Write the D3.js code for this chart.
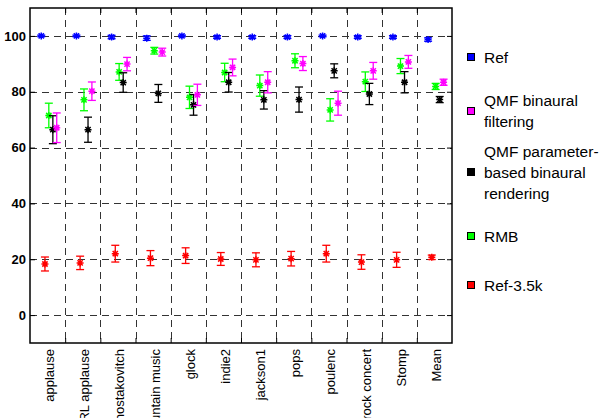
<!DOCTYPE html>
<html>
<head>
<meta charset="utf-8">
<script src="https://cdn.jsdelivr.net/npm/d3@7"></script>
<style>
  html, body { margin: 0; padding: 0; background: #fff; }
  svg { display: block; }
  text { font-family: "Liberation Sans", Arial, sans-serif; }
</style>
</head>
<body>
<div id="chart"></div>
<script>
const categories = ["applause","ARL applause","Shostakovitch","mountain music","glock","indie2","jackson1","pops","poulenc","rock concert","Stomp","Mean"];
const yTicks = [0, 20, 40, 60, 80, 100];

const refVals      = [100, 100, 99.6, 99.2, 100, 99.6, 99.6, 99.6, 100, 99.6, 99.6, 98.7];
const refErr       = [0.3, 0.3, 0.6, 0.8, 0.3, 0.5, 0.5, 0.5, 0.3, 0.5, 0.5, 0.6];
const qmfBinVals   = [67.1, 80.2, 89.9, 94.2, 78.9, 88.7, 83.4, 90.1, 75.9, 87.5, 90.7, 83.4];
const qmfBinErr    = [5.3, 3.3, 2.4, 1.4, 3.8, 3.0, 3.8, 2.5, 4.3, 3.0, 2.3, 1.1];
const qmfParamVals = [66.4, 66.4, 83.3, 79.4, 75.3, 83.4, 77.1, 77.2, 87.5, 79.2, 83.4, 77.2];
const qmfParamErr  = [5.0, 4.5, 3.5, 3.2, 3.7, 3.5, 3.3, 4.5, 2.5, 3.8, 3.8, 1.1];
const rmbVals      = [71.5, 77.1, 87.1, 94.7, 78.0, 86.9, 82.2, 91.1, 73.5, 83.6, 89.2, 81.9];
const rmbErr       = [4.4, 3.9, 3.0, 1.2, 4.0, 3.3, 3.8, 2.5, 4.0, 3.5, 2.7, 1.1];
const ref35Vals    = [18.3, 18.7, 22.0, 20.4, 21.3, 20.1, 19.8, 20.2, 22.0, 19.0, 19.8, 20.7];
const ref35Err     = [2.5, 2.4, 3.0, 2.7, 2.8, 2.3, 2.5, 2.6, 3.0, 2.6, 2.7, 0.8];

const seriesNames = ["Ref", "QMF binaural filtering", "QMF parameter-based binaural rendering", "RMB", "Ref-3.5k"];
const legendLines = [["Ref"], ["QMF binaural", "filtering"], ["QMF parameter-", "based binaural", "rendering"], ["RMB"], ["Ref-3.5k"]];
const seriesColors = ["#0000ff", "#ff00ff", "#000000", "#00ff00", "#ff0000"];
const seriesOffsets = [-0.18, 0.26, 0.15, 0.035, -0.075];
const seriesData = [refVals, qmfBinVals, qmfParamVals, rmbVals, ref35Vals];
const seriesErr = [refErr, qmfBinErr, qmfParamErr, rmbErr, ref35Err];

const W = 610, H = 418;
const L = 30, R = 452, T = 8, B = 343;

const svg = d3.select("#chart").append("svg").attr("width", W).attr("height", H);

const x = d3.scaleLinear().domain([0.5, categories.length + 0.5]).range([L, R]);
const y = d3.scaleLinear().domain([-10, 110]).range([B, T]);

// grid
const grid = svg.append("g").attr("stroke", "#333").attr("stroke-width", 1).attr("stroke-dasharray", "7,5");
const bounds = d3.range(1, categories.length).map(i => i + 0.5);
grid.selectAll("line.v").data(bounds).join("line")
  .attr("x1", d => Math.round(x(d)) + 0.5).attr("x2", d => Math.round(x(d)) + 0.5)
  .attr("y1", T).attr("y2", B);
grid.selectAll("line.h").data(yTicks).join("line")
  .attr("y1", d => Math.round(y(d)) + 0.5).attr("y2", d => Math.round(y(d)) + 0.5)
  .attr("x1", L).attr("x2", R);

// axes
const yAxisL = d3.axisLeft(y).tickValues(yTicks).tickSize(-5).tickPadding(4);
const gyl = svg.append("g").attr("transform", `translate(${L},0)`).call(yAxisL);
gyl.select(".domain").remove();
gyl.selectAll("text").attr("font-size", 13).attr("font-weight", "bold").attr("fill", "#000")
  .attr("font-family", "'Liberation Sans', Arial, sans-serif");
gyl.selectAll("line").attr("stroke", "#000");

const yAxisR = d3.axisRight(y).tickValues(yTicks).tickSize(-5).tickFormat("");
const gyr = svg.append("g").attr("transform", `translate(${R},0)`).call(yAxisR);
gyr.select(".domain").remove();
gyr.selectAll("line").attr("stroke", "#000");

const xAxisB = d3.axisBottom(x).tickValues(bounds).tickSize(-5).tickFormat("");
const gxb = svg.append("g").attr("transform", `translate(0,${B})`).call(xAxisB);
gxb.select(".domain").remove();
gxb.selectAll("line").attr("stroke", "#000");

const xAxisT = d3.axisTop(x).tickValues(bounds).tickSize(-5).tickFormat("");
const gxt = svg.append("g").attr("transform", `translate(0,${T})`).call(xAxisT);
gxt.select(".domain").remove();
gxt.selectAll("line").attr("stroke", "#000");

// category labels (rotated)
svg.append("g").selectAll("text").data(categories).join("text")
  .attr("transform", (d, i) => `translate(${x(i + 1) + 2},${B + 6}) rotate(-90)`)
  .attr("text-anchor", "end").attr("dy", "0.35em")
  .attr("font-size", 13).attr("fill", "#000")
  .text(d => d);

// frame
svg.append("rect").attr("x", L).attr("y", T).attr("width", R - L).attr("height", B - T)
  .attr("fill", "none").attr("stroke", "#000").attr("stroke-width", 1.5);

// series
const drawOrder = [4, 0, 3, 2, 1];
const cap = 4, ms = 3.5;
drawOrder.forEach(s => {
  const g = svg.append("g").attr("stroke", seriesColors[s]).attr("stroke-width", 1.3).attr("fill", "none");
  const vals = seriesData[s], errs = seriesErr[s];
  vals.forEach((v, i) => {
    const cx = x(i + 1 + seriesOffsets[s]);
    const cy = y(v), y1 = y(v + errs[i]), y2 = y(v - errs[i]);
    g.append("line").attr("x1", cx).attr("x2", cx).attr("y1", y1).attr("y2", y2);
    g.append("line").attr("x1", cx - cap).attr("x2", cx + cap).attr("y1", y1).attr("y2", y1);
    g.append("line").attr("x1", cx - cap).attr("x2", cx + cap).attr("y1", y2).attr("y2", y2);
    const p = d3.path();
    p.moveTo(cx - ms, cy); p.lineTo(cx + ms, cy);
    p.moveTo(cx, cy - ms); p.lineTo(cx, cy + ms);
    const d2 = ms * 0.75;
    p.moveTo(cx - d2, cy - d2); p.lineTo(cx + d2, cy + d2);
    p.moveTo(cx - d2, cy + d2); p.lineTo(cx + d2, cy - d2);
    g.append("path").attr("d", p.toString()).attr("stroke-width", 1.5);
  });
});

// legend
const legendCenters = [57, 111, 172, 236, 285];
const lh = 21;
const lg = svg.append("g");
legendLines.forEach((lines, k) => {
  const cy = legendCenters[k];
  lg.append("rect").attr("x", 467.5).attr("y", cy - 3.5).attr("width", 7).attr("height", 7)
    .attr("fill", seriesColors[k]).attr("stroke", "#000").attr("stroke-width", 1);
  const n = lines.length;
  lines.forEach((t, j) => {
    lg.append("text").attr("x", 484).attr("y", cy + (j - (n - 1) / 2) * lh + 5.5)
      .attr("font-size", 15.5).attr("fill", "#000").text(t);
  });
});
</script>
</body>
</html>
